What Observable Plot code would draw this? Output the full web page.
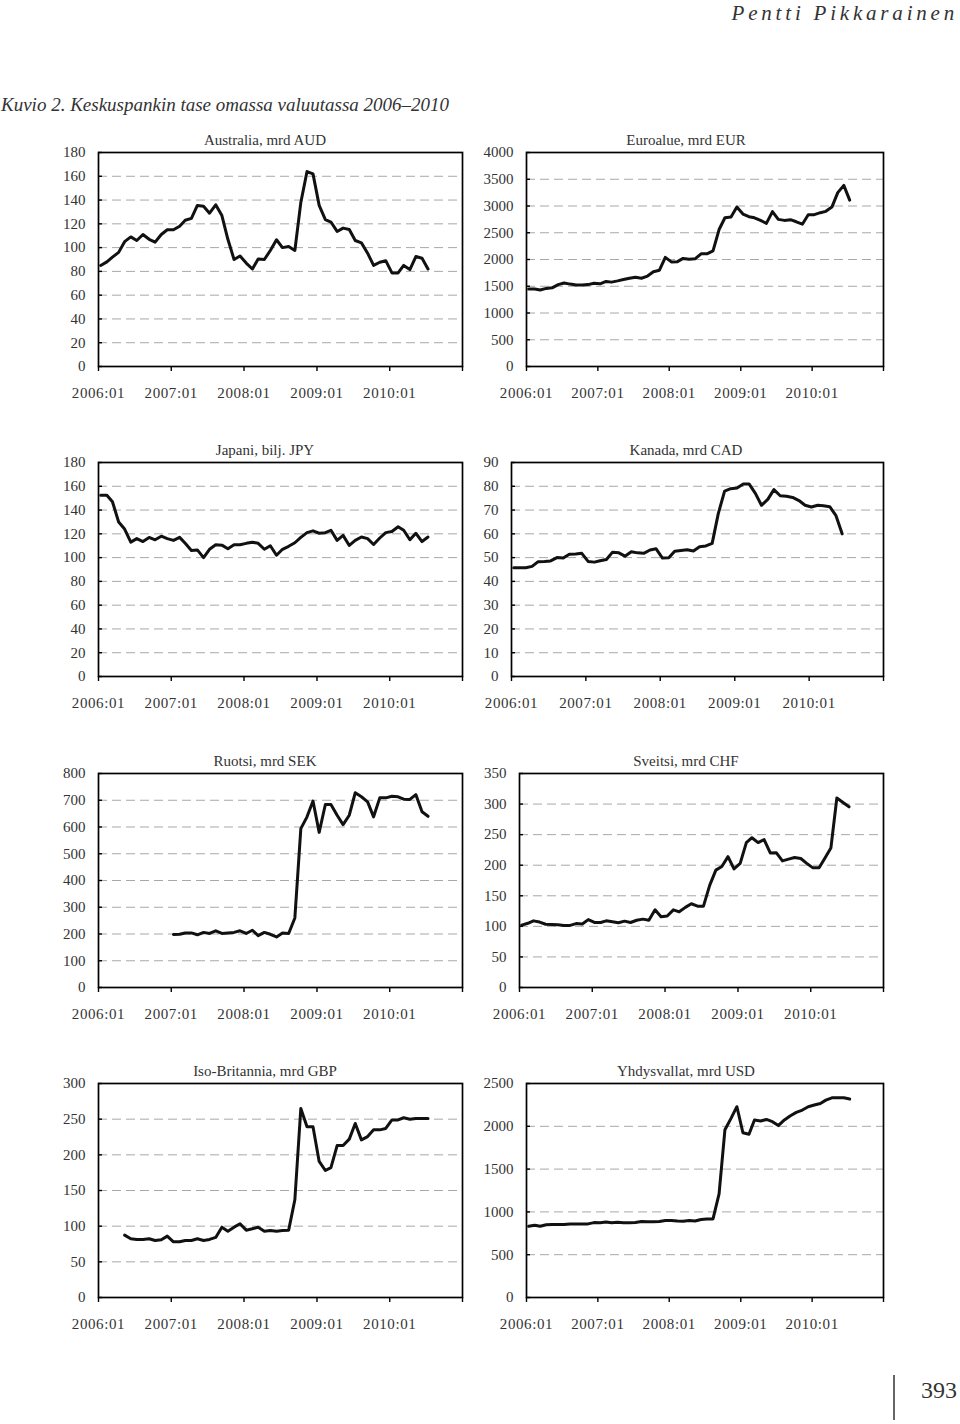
<!DOCTYPE html>
<html><head><meta charset="utf-8">
<script src="https://cdn.jsdelivr.net/npm/d3@7"></script>
<script src="https://cdn.jsdelivr.net/npm/@observablehq/plot@0.6"></script>
<style>
body{margin:0;background:#fff;}
#page{position:relative;width:960px;height:1424px;overflow:hidden;font-family:"Liberation Serif",serif;color:#333;background:#fff;}
.ptitle{position:absolute;width:400px;text-align:center;font-size:15px;line-height:15px;color:#333;white-space:nowrap;}
.panel{position:absolute;}
.panel g[aria-label="x-axis tick label"] text{letter-spacing:0.6px;}
#author{position:absolute;right:2px;top:3px;font-size:21px;line-height:21px;font-style:italic;letter-spacing:3.8px;color:#333;white-space:nowrap;}
#fig{position:absolute;left:1px;top:95px;font-size:19px;line-height:19px;font-style:italic;color:#333;white-space:nowrap;}
#pnum{position:absolute;left:921px;top:1378px;font-size:24px;line-height:24px;color:#333;}
#pline{position:absolute;left:893px;top:1375px;width:2px;height:45px;background:#666;}
</style></head><body><div id="page">
<div id="author">Pentti Pikkarainen</div>
<div id="fig">Kuvio 2. Keskuspankin tase omassa valuutassa 2006–2010</div>
<div id="pline"></div><div id="pnum">393</div>
</div>
<script>
// x axis years (tick at each January)
const years = [2006, 2007, 2008, 2009, 2010, 2011];

// Monthly series (first value = start month)
const australiaStart = 0;
const australia = [85,88,92,96,105,109,106,111,107,104.6,111,115,115,118,123,124.6,135.5,134.7,129,136,127,107,90,93,87,82,90.5,90,97.6,106.6,100,101,97.6,138,164,162,135.5,123.5,121.5,113.6,116.4,115.3,106,104,95.3,85,87.7,89,78.7,78.7,85,81.5,92.5,91,82];
const australiaTicks = [0,20,40,60,80,100,120,140,160,180];

const euroStart = 0;
const euro = [1450,1450,1431,1460,1470,1530,1560,1540,1525,1525,1531,1556,1545,1590,1577,1600,1625,1650,1669,1650,1690,1770,1800,2040,1955,1960,2020,2005,2012,2106,2106,2160,2560,2780,2794,2980,2850,2800,2780,2730,2675,2895,2750,2731,2744,2705,2660,2835,2838,2875,2900,2980,3250,3385,3110];
const euroTicks = [0,500,1000,1500,2000,2500,3000,3500,4000];

const japanStart = 0;
const japan = [152.5,152.5,147,130,124,113,116,113.5,117,115,118,116,114.5,117,112,106,106.5,100,107,110.8,110.5,107.5,110.8,110.8,112,113,112,107,110,102,107,109.5,112.5,117,121,122.5,120.5,121,123,114.5,118.7,110.2,114.5,117.3,116,111,116.5,121,122,126,123,115,120.5,113.5,117.3];
const japanTicks = [0,20,40,60,80,100,120,140,160,180];

const canadaStart = 0;
const canada = [45.7,45.7,45.7,46.3,48.3,48.4,48.6,50,49.8,51.4,51.5,51.8,48.4,48.1,48.7,49.2,52.3,52,50.6,52.5,52,51.8,53.2,53.7,49.8,49.9,52.7,53,53.3,52.8,54.6,54.9,56,68.5,78,79,79.3,81,81,77,72,74.5,78.6,76,75.8,75.3,74,72,71.3,72,71.8,71.4,67.8,60];
const canadaTicks = [0,10,20,30,40,50,60,70,80,90];

const swedenStart = 12;
const sweden = [198,199,204,204,197,206,202,212,202,204,206,212,202,214,194,206,199,189,204,202,260,594,638,697,580,684,684,644,609,644,728,713,694,638,709,709,715,713,704,703,721,657,640];
const swedenTicks = [0,100,200,300,400,500,600,700,800];

const swissStart = 0;
const swiss = [102,105,109,107,103.5,103,102.5,101.4,101.5,104.5,104,111,106.5,106.3,109,107.4,105.8,108.5,106.3,110,111.8,110,127,115.6,117,127,123.8,131,137,133,133,167,192,198,214,194,203,237,245,237,242,220,220.5,207,210,212.6,211,203,195.7,195.7,211,228,310,302.6,295.5];
const swissTicks = [0,50,100,150,200,250,300,350];

const ukStart = 4;
const uk = [87.4,82.3,81.4,81.4,82.3,80,81,86,78.1,78.1,80,80,82.3,80,81.4,84.2,98.6,93,98.6,103.3,94.4,96.3,98.6,93,94,93,94,94.4,137,265,239.5,239.5,190.7,178,182,213,213,222,244,221,225.6,235,235,237,249,249,252,250,251,251,251];
const ukTicks = [0,50,100,150,200,250,300];

const usStart = 0;
const us = [833,845,833,850,853,853,853,858,860,860,860,875,874,882,874,878,872,872,877,888,886,884,888,900,900,893,891,900,893,912,918,918,1210,1960,2093,2229,1925,1907,2074,2062,2080,2054,2008,2074,2124,2163,2190,2229,2248,2267,2306,2333,2333,2333,2318];
const usTicks = [0,500,1000,1500,2000,2500];

const titles = ["Australia, mrd AUD","Euroalue, mrd EUR","Japani, bilj. JPY","Kanada, mrd CAD","Ruotsi, mrd SEK","Sveitsi, mrd CHF","Iso-Britannia, mrd GBP","Yhdysvallat, mrd USD"];

const panels = [
  {title: titles[0], values: australia, start: australiaStart, ticks: australiaTicks, col: 0, row: 0},
  {title: titles[1], values: euro, start: euroStart, ticks: euroTicks, col: 1, row: 0, ml: 46},
  {title: titles[2], values: japan, start: japanStart, ticks: japanTicks, col: 0, row: 1},
  {title: titles[3], values: canada, start: canadaStart, ticks: canadaTicks, col: 1, row: 1, ml: 31},
  {title: titles[4], values: sweden, start: swedenStart, ticks: swedenTicks, col: 0, row: 2},
  {title: titles[5], values: swiss, start: swissStart, ticks: swissTicks, col: 1, row: 2, ml: 39},
  {title: titles[6], values: uk, start: ukStart, ticks: ukTicks, col: 0, row: 3},
  {title: titles[7], values: us, start: usStart, ticks: usTicks, col: 1, row: 3, ml: 46}
];

const rowTops = [152, 462, 773, 1083];
const page = document.getElementById("page");
const yearDates = years.map(y => new Date(Date.UTC(y, 0, 1)));

for (const p of panels) {
  const data = p.values.map((v, i) => ({date: new Date(Date.UTC(2006, p.start + i, 12)), value: v}));
  const ml = p.col === 0 ? 98 : p.ml;
  const mr = p.col === 0 ? 18 : 77;
  const top = rowTops[p.row];
  const chart = Plot.plot({
    width: 480, height: 274,
    marginLeft: ml, marginRight: mr, marginTop: 15, marginBottom: 45,
    style: {fontFamily: "'Liberation Serif', serif", fontSize: "15px", color: "#333", background: "transparent", overflow: "visible"},
    x: {type: "utc", domain: [yearDates[0], yearDates[yearDates.length - 1]]},
    y: {domain: [0, p.ticks[p.ticks.length - 1]]},
    marks: [
      Plot.ruleY(p.ticks.slice(1, -1), {stroke: "#a8a8a8", strokeWidth: 1, strokeDasharray: "9,5"}),
      Plot.axisY({ticks: p.ticks, tickSize: 0, tickPadding: 13, tickFormat: d => String(d), label: null}),
      Plot.axisY({ticks: p.ticks, tickSize: 4, dx: 4, tickFormat: () => "", label: null, stroke: "#000", strokeWidth: 1.4}),
      Plot.axisX({ticks: yearDates, tickSize: 5, tickPadding: 16, stroke: "#000", strokeWidth: 1.4,
        tickFormat: d => d.getUTCFullYear() < 2011 ? d.getUTCFullYear() + ":01" : "", label: null}),
      Plot.frame({stroke: "#000", strokeWidth: 1.7}),
      Plot.line(data, {x: "date", y: "value", stroke: "#111", strokeWidth: 3})
    ]
  });
  chart.classList.add("panel");
  chart.style.left = (p.col * 480) + "px";
  chart.style.top = (top - 15) + "px";
  page.appendChild(chart);
  const t = document.createElement("div");
  t.className = "ptitle";
  t.textContent = p.title;
  const center = p.col === 0 ? 265 : 686;
  t.style.left = (center - 200) + "px";
  t.style.top = (top - 18.6) + "px";
  page.appendChild(t);
}
</script>
</body></html>
